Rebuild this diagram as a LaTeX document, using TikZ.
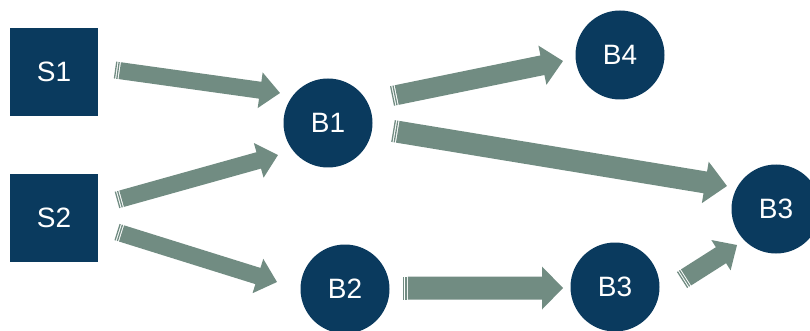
\documentclass[tikz,border=0pt]{standalone}
\usepackage{fontspec}
\setmainfont{Liberation Sans}
\usetikzlibrary{calc}

\definecolor{navy}{HTML}{0A3A5E}
\definecolor{flow}{HTML}{718C82}

% Striped block arrow from coordinate #2 (tail) to coordinate #3 (tip).
% Optional #1: shaft half-width, head half-width, head length (pt).
\newcommand\stripedarrow[3][8.5/18/20]{%
  \pgfpointdiff{\pgfpointanchor{#2}{center}}{\pgfpointanchor{#3}{center}}%
  \pgfgetlastxy{\sadx}{\sady}%
  \pgfmathsetmacro\saang{atan2(\sady,\sadx)}%
  \pgfmathsetmacro\salen{veclen(\sadx,\sady)}%
  \foreach \sw/\hw/\hl in {#1}{%
    \begin{scope}[shift={(#2)}, rotate=\saang]
      \fill[flow] (0,-\sw) rectangle (1.3,\sw);
      \fill[flow] (2.4,-\sw) rectangle (3.7,\sw);
      \fill[flow] (4.8,-\sw) -- (\salen-\hl,-\sw) -- (\salen-\hl,-\hw)
        -- (\salen,0) -- (\salen-\hl,\hw) -- (\salen-\hl,\sw) -- (4.8,\sw) -- cycle;
    \end{scope}}%
}

\begin{document}
\begin{tikzpicture}[x=1pt,y=-1pt,
  every node/.style={text=white, font=\fontsize{28}{32}\selectfont, inner sep=0pt},
  src/.style={fill=navy, minimum size=88pt},
  blk/.style={circle, fill=navy, minimum size=89pt}]
  \useasboundingbox (0,0) rectangle (810,331);

  % sources and blocks
  \node[src] (s1) at (54,72) {S1};
  \node[src] (s2) at (54,218) {S2};
  \node[blk] (b1) at (328,123) {B1};
  \node[blk] (b4) at (620,55) {B4};
  \node[blk] (b2) at (345,289) {B2};
  \node[blk] (b3a) at (615,287) {B3};
  \node[blk] (b3b) at (776,209) {B3};

  % arrow tails and tips
  \coordinate (t1) at (115,70);   \coordinate (h1) at (280,93);
  \coordinate (t2) at (117,200);  \coordinate (h2) at (278,155);
  \coordinate (t3) at (117,232);  \coordinate (h3) at (277,282);
  \coordinate (t4) at (392,96);   \coordinate (h4) at (563,61);
  \coordinate (t5) at (393,131);  \coordinate (h5) at (727,186);
  \coordinate (t6) at (403,288);  \coordinate (h6) at (563,288);
  \coordinate (t7) at (682,280);  \coordinate (h7) at (737,245);

  \stripedarrow{t1}{h1}
  \stripedarrow{t2}{h2}
  \stripedarrow{t3}{h3}
  \stripedarrow[10/20/21]{t4}{h4}
  \stripedarrow[11/21/22]{t5}{h5}
  \stripedarrow[11.5/21.5/21]{t6}{h6}
  \stripedarrow[9.5/18/19]{t7}{h7}
\end{tikzpicture}
\end{document}
